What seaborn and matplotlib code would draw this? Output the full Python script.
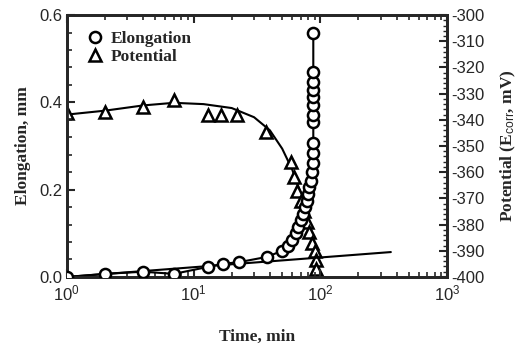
import numpy as np
import pandas as pd
import matplotlib
matplotlib.use("Agg")
import matplotlib.pyplot as plt
from matplotlib.lines import Line2D
from matplotlib.ticker import LogLocator, MultipleLocator, FixedLocator, NullFormatter
import seaborn as sns

# ---- data ----
elong_t = [1, 2, 4, 7, 13, 17, 23, 38, 50, 56, 60, 64, 67, 70, 73, 76, 78, 80, 82,
           84, 86, 88, 88, 88, 88, 88, 88, 88, 88, 88, 88, 88]
elong_v = [0.0, 0.007, 0.012, 0.007, 0.023, 0.030, 0.034, 0.046, 0.060, 0.070, 0.085,
           0.100, 0.115, 0.130, 0.145, 0.160, 0.175, 0.190, 0.205, 0.220, 0.240, 0.260,
           0.285, 0.307, 0.355, 0.371, 0.394, 0.412, 0.428, 0.447, 0.469, 0.559]

pot_t = [1, 2, 4, 7, 13, 16.5, 22, 37.6, 59, 62, 66, 70, 74, 78, 82, 86, 90, 93, 93]
pot_v = [-337.5, -337, -335, -332.5, -338, -338, -338, -344.5, -356, -362, -367,
         -371, -375, -379, -383, -387, -390, -393.5, -397]

curve_t = [1, 2, 4, 7, 12, 20, 30, 40, 50, 60, 70, 80, 88, 93]
curve_v = [-338, -336.5, -334.5, -333.5, -334, -335.5, -339, -344, -351, -359,
           -368, -379, -390, -398]

fit_t = [1, 360]
fit_v = [0.0, 0.057]

x_ticks = [1, 10, 100, 1000]
x_labels = ["$10^0$", "$10^1$", "$10^2$", "$10^3$"]
left_ticks = [0.0, 0.2, 0.4, 0.6]
right_ticks = list(range(-400, -299, 10))

sns.set_style("ticks")
plt.rcParams["font.family"] = ["Liberation Sans", "DejaVu Sans"]
plt.rcParams["mathtext.fontset"] = "custom"
plt.rcParams["mathtext.rm"] = "Liberation Sans"
plt.rcParams["mathtext.it"] = "Liberation Sans"

fig = plt.figure(figsize=(5.26, 3.51), dpi=100)
ax = fig.add_axes([0.127, 0.211, 0.723, 0.746])
ax2 = ax.twinx()

df_e = pd.DataFrame({"t": elong_t, "v": elong_v})
df_p = pd.DataFrame({"t": pot_t, "v": pot_v})
df_c = pd.DataFrame({"t": curve_t, "v": curve_v})
df_f = pd.DataFrame({"t": fit_t, "v": fit_v})

lw = 1.5
sns.lineplot(data=df_e, x="t", y="v", ax=ax, estimator=None, sort=False,
             color="black", lw=lw)
sns.lineplot(data=df_f, x="t", y="v", ax=ax, estimator=None, sort=False,
             color="black", lw=lw)
ax.plot(df_e["t"], df_e["v"], ls="none", marker="o", ms=8, mfc="white",
        mec="black", mew=1.8, zorder=5)

sns.lineplot(data=df_c, x="t", y="v", ax=ax2, estimator=None, sort=False,
             color="black", lw=lw)
ax2.plot(df_p["t"], df_p["v"], ls="none", marker="^", ms=9, mfc="white",
         mec="black", mew=1.8, zorder=5)

ax.set_xscale("log")
ax.set_xlim(1, 1000)
ax.set_ylim(0, 0.6)
ax2.set_ylim(-400, -300)

ax.xaxis.set_major_locator(FixedLocator(x_ticks))
ax.set_xticklabels(x_labels)
ax.xaxis.set_minor_locator(LogLocator(base=10, subs=np.arange(2, 10)))
ax.xaxis.set_minor_formatter(NullFormatter())
ax.yaxis.set_major_locator(FixedLocator(left_ticks))
ax.set_yticklabels(["0.0", "0.2", "0.4", "0.6"])
ax.yaxis.set_minor_locator(MultipleLocator(0.04))
ax2.yaxis.set_major_locator(FixedLocator(right_ticks))
ax2.set_yticklabels([str(v) for v in right_ticks])
ax2.yaxis.set_minor_locator(MultipleLocator(2))

ax.tick_params(axis="both", which="major", direction="in", length=6, width=1.5,
               labelsize=12, top=True, right=False, pad=3)
ax.tick_params(axis="both", which="minor", direction="in", length=3.5, width=1.2,
               top=True, right=False)
ax.tick_params(axis="x", which="major", pad=5)
ax2.tick_params(axis="y", which="major", direction="in", length=6, width=1.5,
                labelsize=12, pad=3)
ax2.tick_params(axis="y", which="minor", direction="in", length=3, width=1.0)

for a in (ax, ax2):
    for s in a.spines.values():
        s.set_linewidth(2)
        s.set_visible(True)

serif = ["Liberation Serif", "DejaVu Serif"]
ax.set_xlabel("Time, min", fontsize=12.5, fontweight="bold", family=serif, labelpad=18)
ax.set_ylabel("Elongation, mm", fontsize=12.5, fontweight="bold", family=serif, labelpad=6)
ax2.set_ylabel("Potential (E$_{corr}$, mV)", fontsize=12.5, fontweight="bold",
               family=serif, labelpad=10)

handles = [
    Line2D([], [], ls="none", marker="o", ms=8, mfc="white", mec="black", mew=1.8),
    Line2D([], [], ls="none", marker="^", ms=9, mfc="white", mec="black", mew=1.8),
]
leg = ax.legend(handles, ["Elongation", "Potential"], loc="upper left",
                bbox_to_anchor=(0.02, 0.98), frameon=False, handletextpad=0.3,
                labelspacing=0.1, borderaxespad=0.2, handlelength=1.2,
                prop={"family": serif, "weight": "bold", "size": 12.5})

ax.set_zorder(ax2.get_zorder() + 1)
ax.patch.set_visible(False)

fig.savefig("out.png", dpi=100)
